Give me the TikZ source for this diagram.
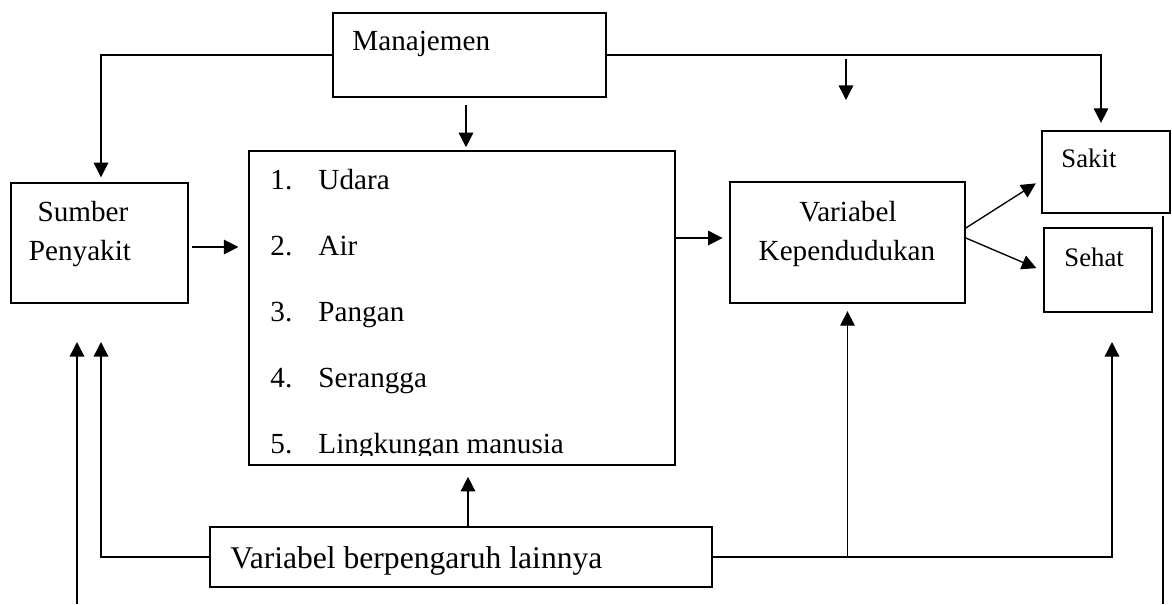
\documentclass[tikz,border=0pt]{standalone}
\usepackage{fontspec}
\setmainfont{Liberation Serif}
\usetikzlibrary{arrows.meta,fit,positioning}

\begin{document}
\begin{tikzpicture}[x=0.4115pt,y=-0.4115pt,>={Triangle[length=6pt,width=6pt]},
  font=\fontsize{12}{14}\selectfont,
  box/.style={draw,line width=0.7pt,inner sep=0pt},
  conn/.style={line width=0.55pt},
  lbl/.style={inner sep=0pt,anchor=base west}]
\useasboundingbox (0,0) rectangle (1172,604);
% boxes
\node[box,fit={(333,13) (606,97)}] (man) {};
\node[box,fit={(11,183) (188,303)}] (src) {};
\node[box,fit={(249,151) (675,465)}] (lst) {};
\node[box,fit={(730,182) (965,303)}] (kep) {};
\node[box,fit={(1042,131) (1170,213)}] (sak) {};
\node[box,fit={(1044,228) (1152,312)}] (seh) {};
\node[box,fit={(210,527) (712,587)}] (var) {};
% texts
\node[lbl] (tman) at (352,50) {Manajemen};
\node[lbl,anchor=base] (tsrc1) at (83,221) {Sumber};
\node[lbl,anchor=base] (tsrc2) at (80,260) {Penyakit};
\foreach \i/\t in {1/Udara,2/Air,3/Pangan,4/Serangga}{
  \node[lbl] (num\i) at (270,{189+66*(\i-1)}) {\i.};
  \node[lbl] (item\i) at (318,{189+66*(\i-1)}) {\t};}
% last item is cut off by the box
\begin{scope}
\clip (249,151) rectangle (675,455);
\node[lbl] (num5) at (270,453) {5.};
\node[lbl] (item5) at (318,453) {Lingkungan manusia};
\end{scope}
\node[lbl,anchor=base] (tkep1) at (848,221) {Variabel};
\node[lbl,anchor=base] (tkep2) at (847,260) {Kependudukan};
\node[lbl,font=\fontsize{11}{13}\selectfont] (tsak) at (1061,167) {Sakit};
\node[lbl,font=\fontsize{11}{13}\selectfont] (tseh) at (1064,266) {Sehat};
\node[lbl,font=\fontsize{13}{15}\selectfont] (tvar) at (230,568) {Variabel berpengaruh lainnya};
% free ends
\coordinate (fa) at (846,59);
\coordinate (fb) at (846,100);
\coordinate (lb) at (77,604);
\coordinate (lt) at (77,342);
\coordinate (vt) at (101,342);
\coordinate (st) at (1112,342);
\coordinate (rb) at (1163,604);
% Manajemen arrows
\draw[conn,->,shorten >=2pt] (man.west) -| (src.north -| 101,0);
\draw[conn,->,shorten <=3pt,shorten >=1.2pt] (man.south -| 466,0) -- (lst.north -| 466,0);
\draw[conn,->,shorten >=3pt] (man.east) -| (sak.north -| 1101,0);
\draw[conn,->] (fa) -- (fb);
% main chain
\draw[conn,->,shorten <=1.2pt,shorten >=4pt] (src.east |- 0,247) -- (lst.west |- 0,247);
\draw[conn,->,shorten >=2.7pt] (lst.east |- 0,238) -- (kep.west |- 0,238);
\draw[conn,->,shorten >=2.6pt] (kep.east |- 0,228) -- (sak.west |- 0,180);
\draw[conn,->,shorten >=3pt] (kep.east |- 0,238) -- (seh.west |- 0,271);
% other variables
\draw[conn,->,shorten >=4.5pt] (var.north -| 468,0) -- (lst.south -| 468,0);
\draw[conn,->] (var.west) -| (vt);
\draw[conn,->] (var.east) -| (st);
\draw[conn,->,shorten >=3pt] (var.east -| kep.south) -- (kep.south);
\draw[conn,->] (lb) -- (lt);
\draw[conn,shorten <=0.8pt] (sak.south -| rb) -- (rb);
\end{tikzpicture}
\end{document}
